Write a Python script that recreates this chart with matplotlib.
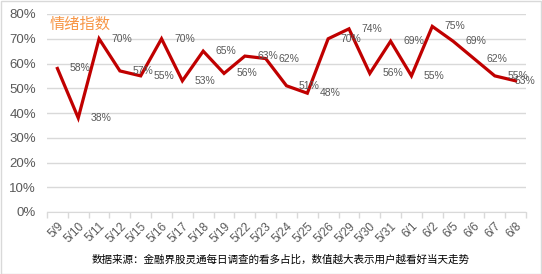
# 情绪指数 line chart

import matplotlib
matplotlib.use('Agg')
from matplotlib import pyplot as plt
from matplotlib.patches import Rectangle

dates = ['5/9', '5/10', '5/11', '5/12', '5/15', '5/16', '5/17', '5/18', '5/19',
         '5/22', '5/23', '5/24', '5/25', '5/26', '5/29', '5/30', '5/31', '6/1',
         '6/2', '6/5', '6/6', '6/7', '6/8']
sentiment = [58, 38, 70, 57, 55, 70, 53, 65, 56, 63, 62, 51, 48, 70, 74, 56,
             69, 55, 75, 69, 62, 55, 53]
yticks = [0, 10, 20, 30, 40, 50, 60, 70, 80]

title = '情绪指数'
source = '数据来源：金融界股灵通每日调查的看多占比，数值越大表示用户越看好当天走势'

fonts = ['Liberation Sans', 'Noto Sans CJK SC', 'DejaVu Sans']
cjk = ['Noto Sans CJK SC', 'DejaVu Sans']
plt.rcParams['font.family'] = fonts

fig = plt.figure(figsize=(5.42, 2.74), dpi=100)
ax = fig.add_axes([47/542, 1 - 212/274, 479/542, 198/274])

x = list(range(len(dates)))
ax.plot(x, sentiment, c='#C00000', lw=2.3, solid_joinstyle='miter', zorder=3)
for xi, v in zip(x, sentiment):
    dx = 7 if xi == len(dates) - 1 else 16.5   # last label squeezed in
    ax.annotate(f'{v}%', (xi, v), xytext=(dx, 0), textcoords='offset points',
                ha='center', va='center', fontsize=7.5, color='#595959', zorder=4)

ax.set_xlim(-0.5, len(dates) - 0.5)
ax.set_ylim(0, 80)
ax.set_yticks(yticks)
ax.set_yticklabels([f'{t}%' for t in yticks], fontsize=9.5, color='#595959')
ax.yaxis.grid(True, color='#D9D9D9', lw=1)
ax.set_axisbelow(True)
ax.tick_params(axis='y', length=0, pad=8)

# category ticks on boundaries, labels at centres
ax.set_xticks([i - 0.5 for i in range(len(dates) + 1)])
ax.set_xticklabels([])
ax.set_xticks(x, minor=True)
ax.set_xticklabels(dates, minor=True, rotation=45, ha='right', va='top',
                   rotation_mode='anchor', fontsize=8.5, color='#595959')
ax.tick_params(axis='x', which='major', length=4, color='#D9D9D9', width=1)
ax.tick_params(axis='x', which='minor', length=0, pad=6)

for s in ['top', 'right', 'left']:
    ax.spines[s].set_visible(False)
ax.spines['bottom'].set_color('#D9D9D9')

fig.text(50/542, 1 - 24/274, title, family=cjk, fontsize=11, color='#F79646',
         ha='left', va='center')
fig.text(281/542, 1 - 260/274, source, family=cjk, fontsize=7.6, color='black',
         ha='center', va='center')

fig.patches.append(Rectangle((0.5/542, 0.5/274), 540.5/542, 272.5/274,
                             transform=fig.transFigure, fill=False,
                             edgecolor='#D9D9D9', lw=1))

fig.savefig('out.png', dpi=100)
